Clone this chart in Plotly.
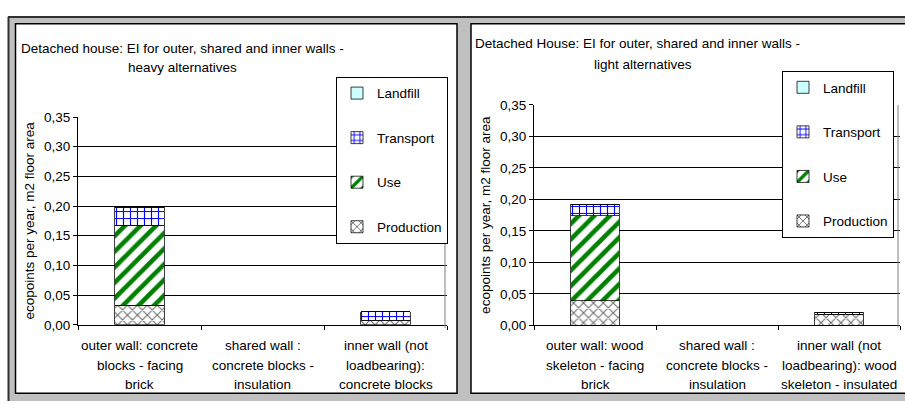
import plotly.graph_objects as go

# Wall alternatives (category labels, one line per entry)
heavy_labels = [
    ["outer wall: concrete", "blocks - facing", "brick"],
    ["shared wall :", "concrete blocks -", "insulation"],
    ["inner wall (not", "loadbearing):", "concrete blocks"],
]
light_labels = [
    ["outer wall: wood", "skeleton - facing", "brick"],
    ["shared wall :", "concrete blocks -", "insulation"],
    ["inner wall (not", "loadbearing): wood", "skeleton - insulated"],
]
heavy_cats = [" ".join(l) for l in heavy_labels]
light_cats = [" ".join(l) for l in light_labels]

# Ecopoints per year and m2 floor area, by life-cycle phase (None = no bar)
heavy_production = [0.033, None, 0.008]
heavy_use = [0.135, None, None]
heavy_transport = [0.030, None, 0.014]
heavy_landfill = [0.0005, None, 0.0003]

light_production = [0.039, None, 0.018]
light_use = [0.135, None, None]
light_transport = [0.018, None, 0.003]
light_landfill = [0.0005, None, 0.0003]

phases = ["Production", "Use", "Transport", "Landfill"]
y_ticks = [0, 0.05, 0.10, 0.15, 0.20, 0.25, 0.30, 0.35]

FONT = "Liberation Sans, Arial, sans-serif"
FS = 13.5
W, H = 905, 405

styles = {
    "Production": dict(shape="x", fgcolor="#707070", bgcolor="white", size=7,
                       solidity=0.3, fgopacity=1),
    "Use": dict(shape="/", fgcolor="#008000", bgcolor="white", size=11,
                solidity=0.42, fgopacity=1),
    "Transport": dict(shape="+", fgcolor="#0000ff", bgcolor="white", size=7,
                      solidity=0.3, fgopacity=1),
    "Landfill": dict(shape=""),
}
fills = {"Production": "white", "Use": "white", "Transport": "white", "Landfill": "#ccffff"}
ranks = {"Landfill": 1, "Transport": 2, "Use": 3, "Production": 4}

fig = go.Figure()

def add_stack(cats, series, xa, ya, legend, tag):
    for name, vals in zip(phases, series):
        fig.add_trace(go.Bar(
            x=cats, y=vals, name=name, xaxis=xa, yaxis=ya,
            width=0.4, legend=legend, legendgroup=tag + name,
            legendrank=ranks[name],
            marker=dict(color=fills[name], pattern=styles[name],
                        line=dict(color="black", width=0.75)),
        ))

add_stack(heavy_cats, [heavy_production, heavy_use, heavy_transport, heavy_landfill],
          "x", "y", "legend", "h")
add_stack(light_cats, [light_production, light_use, light_transport, light_landfill],
          "x2", "y2", "legend2", "l")

def px(x):
    return x / W

def py(y):
    return 1 - y / H

yaxis_common = dict(
    range=[0, 0.35], tickvals=y_ticks, tickformat=".2f",
    showgrid=True, gridcolor="black", gridwidth=1, zeroline=False,
    showline=True, linecolor="black", linewidth=1,
    ticks="outside", ticklen=4, tickcolor="black",
    tickfont=dict(family=FONT, size=FS, color="black"),
    title=dict(text="ecopoints per year, m2 floor area",
               font=dict(family=FONT, size=FS, color="black"), standoff=6),
)
xaxis_common = dict(
    type="category", showline=True, linecolor="black", linewidth=1,
    ticks="outside", ticklen=4, tickcolor="black", tickson="boundaries",
    showticklabels=False, showgrid=False, zeroline=False,
)

legend_common = dict(
    xanchor="left", yanchor="top",
    bgcolor="white", bordercolor="black", borderwidth=1,
    traceorder="grouped", tracegroupgap=24,
    font=dict(family=FONT, size=FS, color="black"),
)

fig.update_layout(
    width=W, height=H, margin=dict(l=0, r=0, t=0, b=0),
    paper_bgcolor="white", plot_bgcolor="rgba(0,0,0,0)",
    barmode="stack", bargap=0.6, separators=",.",
    font=dict(family=FONT, size=FS, color="black"),
    xaxis=dict(domain=[px(78), px(447)], anchor="y", **xaxis_common),
    yaxis=dict(domain=[py(330), py(114.3)], anchor="x", **yaxis_common),
    xaxis2=dict(domain=[px(534), px(900)], anchor="y2", **xaxis_common),
    yaxis2=dict(domain=[py(330.7), py(101.7)], anchor="x2", **yaxis_common),
    legend=dict(x=px(336), y=py(72.5), **legend_common),
    legend2=dict(x=px(782), y=py(66.5), **legend_common),
)

# Frame: grey surround with two white chart panels
shapes = [
    dict(type="rect", xref="paper", yref="paper", x0=px(8), x1=1.01, y0=-0.01, y1=py(10),
         fillcolor="#c0c0c0", line=dict(width=0), layer="below"),
    dict(type="line", xref="paper", yref="paper", x0=px(8), x1=1.01, y0=py(10.5), y1=py(10.5),
         line=dict(color="#303030", width=2), layer="below"),
    dict(type="line", xref="paper", yref="paper", x0=px(8.5), x1=px(8.5), y0=-0.01, y1=py(10),
         line=dict(color="#303030", width=2), layer="below"),
    dict(type="rect", xref="paper", yref="paper", x0=px(15.5), x1=px(457), y0=py(401), y1=py(17.5),
         fillcolor="white", line=dict(color="black", width=1.5), layer="below"),
    dict(type="rect", xref="paper", yref="paper", x0=px(471), x1=1.01, y0=py(401), y1=py(17.5),
         fillcolor="white", line=dict(color="black", width=1.5), layer="below"),
    # plot-area right edges
    dict(type="line", xref="paper", yref="paper", x0=px(445), x1=px(445), y0=py(333), y1=py(114.3),
         line=dict(color="#808080", width=1)),
    dict(type="line", xref="paper", yref="paper", x0=px(898), x1=px(898), y0=py(333), y1=py(101.7),
         line=dict(color="#808080", width=1)),
]

annotations = []
# Titles
for text, cx, cy in [
    ("Detached house: EI for outer, shared and inner walls -", 182.5, 42.7),
    ("heavy alternatives", 182.5, 63),
    ("Detached House: EI for outer, shared and inner walls -", 637.5, 38),
    ("light alternatives", 643, 59.5),
]:
    annotations.append(dict(text=text, x=px(cx), y=py(cy), xref="paper", yref="paper",
                            xanchor="center", yanchor="middle", showarrow=False,
                            font=dict(family=FONT, size=FS, color="black")))

# Category labels, one annotation per line
line_y = [351, 372, 392.5]
for cats, labels, xa in [(heavy_cats, heavy_labels, "x"), (light_cats, light_labels, "x2")]:
    for cat, lines in zip(cats, labels):
        for ln, yy in zip(lines, line_y):
            annotations.append(dict(text=ln, x=cat, y=py(yy), xref=xa, yref="paper",
                                    xanchor="center", yanchor="middle", showarrow=False,
                                    font=dict(family=FONT, size=FS, color="black")))

fig.update_layout(shapes=shapes, annotations=annotations)
fig.write_html("out.html")
